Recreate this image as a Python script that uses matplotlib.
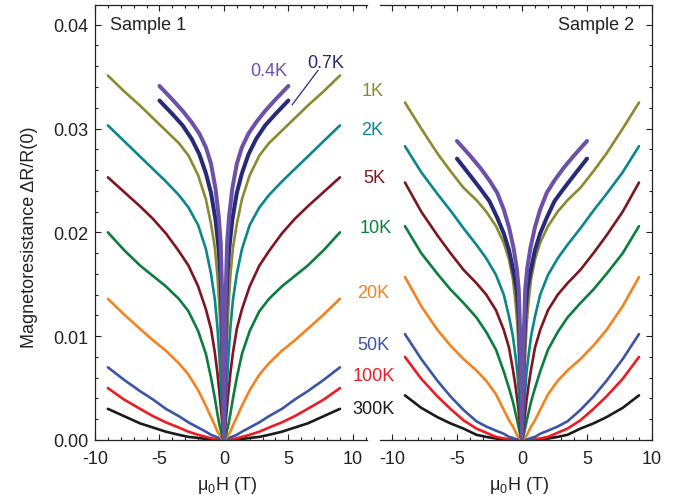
"""
Magnetoresistance vs field, two samples side by side (broken-axis style)
"""
import numpy as np
import matplotlib
matplotlib.use('Agg')
import matplotlib.pyplot as plt
from matplotlib.ticker import MultipleLocator, FormatStrFormatter

plt.rcParams['font.family'] = ['Liberation Sans', 'DejaVu Sans']
plt.rcParams['axes.unicode_minus'] = False
plt.rcParams['mathtext.default'] = 'regular'

# ---- data (positive-field half, curves are symmetric in H) ----
temps = ['300K', '100K', '50K', '20K', '10K', '5K', '2K', '1K']
colors = ['#1a1a1a', '#ec1c24', '#3b55a5', '#f5821f',
          '#0b7d3f', '#7e1520', '#0a878a', '#8a8a2f']

# field grid for T >= 1K (Tesla)
H = [0, 0.1, 0.2, 0.35, 0.5, 0.7, 1.0, 1.4, 2, 2.75, 3.5, 4.5, 5.5, 6.5, 7.75, 9]

s1 = {
    '300K': [0, 0, 0, 0.00001, 0.00002, 0.00004, 0.00007, 0.0001, 0.0002, 0.0003, 0.0005, 0.0008, 0.0012, 0.0016, 0.0023, 0.0030],
    '100K': [0, 0, 0.00001, 0.00003, 0.00005, 0.0001, 0.00017, 0.0003, 0.0005, 0.0008, 0.0012, 0.0017, 0.0023, 0.0030, 0.0039, 0.0050],
    '50K':  [0, 0.00005, 0.0001, 0.00017, 0.00025, 0.00035, 0.0005, 0.0008, 0.0012, 0.0017, 0.0023, 0.0030, 0.0039, 0.0047, 0.0058, 0.0070],
    '20K':  [0, 0.00005, 0.0002, 0.0005, 0.0008, 0.0014, 0.0022, 0.0033, 0.0048, 0.0063, 0.0074, 0.0086, 0.0096, 0.0107, 0.0121, 0.0136],
    '10K':  [0, 0.0002, 0.0007, 0.0015, 0.0025, 0.0040, 0.0060, 0.0083, 0.0105, 0.0124, 0.0136, 0.0148, 0.0158, 0.0168, 0.0183, 0.0200],
    '5K':   [0, 0.0012, 0.0026, 0.0046, 0.0064, 0.0084, 0.0107, 0.0126, 0.0148, 0.0168, 0.0182, 0.0199, 0.0213, 0.0225, 0.0239, 0.0253],
    '2K':   [0, 0.0022, 0.0045, 0.0080, 0.0108, 0.0135, 0.0160, 0.0184, 0.0207, 0.0224, 0.0236, 0.0249, 0.0261, 0.0273, 0.0288, 0.0303],
    '1K':   [0, 0.0045, 0.0085, 0.0128, 0.0158, 0.0185, 0.0208, 0.0232, 0.0255, 0.0274, 0.0286, 0.0298, 0.0310, 0.0322, 0.0336, 0.0351],
}
s2 = {
    '300K': [0, 0, 0, 0, 0.00001, 0.00002, 0.00004, 0.00008, 0.00015, 0.0003, 0.0005, 0.0011, 0.0016, 0.0022, 0.0031, 0.0043],
    '100K': [0, 0, 0, 0.00001, 0.00002, 0.00004, 0.00008, 0.00015, 0.0003, 0.0007, 0.0011, 0.0019, 0.0030, 0.0042, 0.0059, 0.0080],
    '50K':  [0, 0, 0.00002, 0.00005, 0.0001, 0.0002, 0.0003, 0.0006, 0.0009, 0.0013, 0.0018, 0.0029, 0.0042, 0.0057, 0.0078, 0.0102],
    '20K':  [0, 0.00005, 0.0002, 0.0004, 0.0008, 0.0013, 0.0019, 0.0029, 0.0044, 0.0057, 0.0067, 0.0078, 0.0091, 0.0106, 0.0129, 0.0157],
    '10K':  [0, 0.0003, 0.0009, 0.0018, 0.0026, 0.0037, 0.0050, 0.0066, 0.0087, 0.0104, 0.0118, 0.0132, 0.0145, 0.0160, 0.0180, 0.0206],
    '5K':   [0, 0.0010, 0.0021, 0.0038, 0.0052, 0.0068, 0.0089, 0.0106, 0.0125, 0.0140, 0.0151, 0.0164, 0.0180, 0.0197, 0.0220, 0.0248],
    '2K':   [0, 0.0020, 0.0039, 0.0065, 0.0081, 0.0100, 0.0119, 0.0140, 0.0159, 0.0175, 0.0188, 0.0204, 0.0221, 0.0237, 0.0258, 0.0283],
    '1K':   [0, 0.0035, 0.0068, 0.0110, 0.0133, 0.0155, 0.0174, 0.0190, 0.0206, 0.0220, 0.0231, 0.0243, 0.0259, 0.0276, 0.0300, 0.0325],
}

# lowest temperatures, measured only up to 5 T
low_temps = ['0.7K', '0.4K']
low_colors = ['#272a78', '#6b52a8']
H_low = [0, 0.05, 0.1, 0.15, 0.25, 0.4, 0.65, 1.0, 1.4, 1.9, 2.5, 3.2, 4.0, 5.0]
s1_low = {
    '0.7K': [0, 0.0040, 0.0080, 0.0115, 0.0155, 0.0183, 0.0212, 0.0238, 0.0257, 0.0275, 0.0290, 0.0303, 0.0314, 0.0327],
    '0.4K': [0, 0.0050, 0.0100, 0.0145, 0.0190, 0.0215, 0.0242, 0.0266, 0.0282, 0.0295, 0.0306, 0.0317, 0.0328, 0.0341],
}
s2_low = {
    '0.7K': [0, 0.0030, 0.0060, 0.0085, 0.0120, 0.0145, 0.0162, 0.0183, 0.0199, 0.0214, 0.0230, 0.0242, 0.0255, 0.0271],
    '0.4K': [0, 0.0040, 0.0075, 0.0105, 0.0145, 0.0165, 0.0185, 0.0205, 0.0222, 0.0238, 0.0250, 0.0262, 0.0274, 0.0288],
}

# temperature labels between the panels (left-panel data coords)
label_x = [11.6, 11.6, 11.6, 11.6, 11.8, 11.7, 11.5, 11.5]
label_y = [0.0030, 0.0062, 0.0092, 0.0142, 0.0205, 0.0253, 0.0299, 0.0337]


def mirror(h, v):
    h = np.asarray(h, float)
    v = np.asarray(v, float)
    return np.concatenate([-h[::-1], h[1:]]), np.concatenate([v[::-1], v[1:]])


fig = plt.figure(figsize=(6.87, 5.02), dpi=100)
ax1 = fig.add_axes([95/687, 61/502, 272/687, 435/502])
ax2 = fig.add_axes([380/687, 61/502, 272/687, 435/502])
ax2.set_facecolor('none')

for ax, data, data_low in [(ax1, s1, s1_low), (ax2, s2, s2_low)]:
    for t, c in zip(temps, colors):
        x, y = mirror(H, data[t])
        ax.plot(x, y, color=c, lw=1.9, solid_capstyle='round', solid_joinstyle='round')
    for t, c in zip(low_temps, low_colors):
        x, y = mirror(H_low, data_low[t])
        ax.plot(x, y, color=c, lw=2.9, solid_capstyle='round', solid_joinstyle='round')

    ax.set_ylim(0, 0.0419)
    ax.xaxis.set_major_locator(MultipleLocator(5))
    ax.xaxis.set_minor_locator(MultipleLocator(1))
    ax.yaxis.set_major_locator(MultipleLocator(0.01))
    ax.yaxis.set_minor_locator(MultipleLocator(0.002))
    ax.tick_params(which='both', direction='in', top=True, width=0.8,
                   colors='#222222', labelsize=13)
    ax.tick_params(which='major', length=4)
    ax.tick_params(which='minor', length=2.2)
    ax.tick_params(axis='x', pad=7)
    for sp in ax.spines.values():
        sp.set_linewidth(0.9)
        sp.set_color('#222222')

ax1.set_xlim(-10, 11.1)
ax2.set_xlim(-10.92, 10)
ax1.spines['right'].set_visible(False)
ax2.spines['left'].set_visible(False)
ax1.tick_params(which='both', left=True, right=False)
ax1.tick_params(axis='y', pad=5)
ax2.tick_params(which='both', left=False, right=True, labelleft=False)
ax1.yaxis.set_major_formatter(FormatStrFormatter('%.2f'))

for t, c, lx, ly in zip(temps, colors, label_x, label_y):
    ax1.text(lx, ly, t, color=c, fontsize=13, ha='center', va='center', clip_on=False)

ax1.text(3.5, 0.0356, '0.4K', color=low_colors[1], fontsize=13, ha='center', va='center')
ax1.text(7.9, 0.0364, '0.7K', color=low_colors[0], fontsize=13, ha='center', va='center')
ax1.plot([7.3, 5.3], [0.0356, 0.0323], color=low_colors[0], lw=0.9)

ax1.text(0.055, 0.955, 'Sample 1', transform=ax1.transAxes, fontsize=13,
         ha='left', va='center', color='#222222')
ax2.text(0.935, 0.955, 'Sample 2', transform=ax2.transAxes, fontsize=13,
         ha='right', va='center', color='#222222')

fig.text(30/687, 1 - 237/502, 'Magnetoresistance \u0394R/R(0)', rotation=90,
         fontsize=13, ha='center', va='center', color='#222222')
fig.text(227/687, 1 - 486/502, '\u03bc$_0$H (T)', fontsize=13,
         ha='center', va='center', color='#222222')
fig.text(519/687, 1 - 486/502, '\u03bc$_0$H (T)', fontsize=13,
         ha='center', va='center', color='#222222')

fig.savefig('out.png', dpi=100, facecolor='white')
